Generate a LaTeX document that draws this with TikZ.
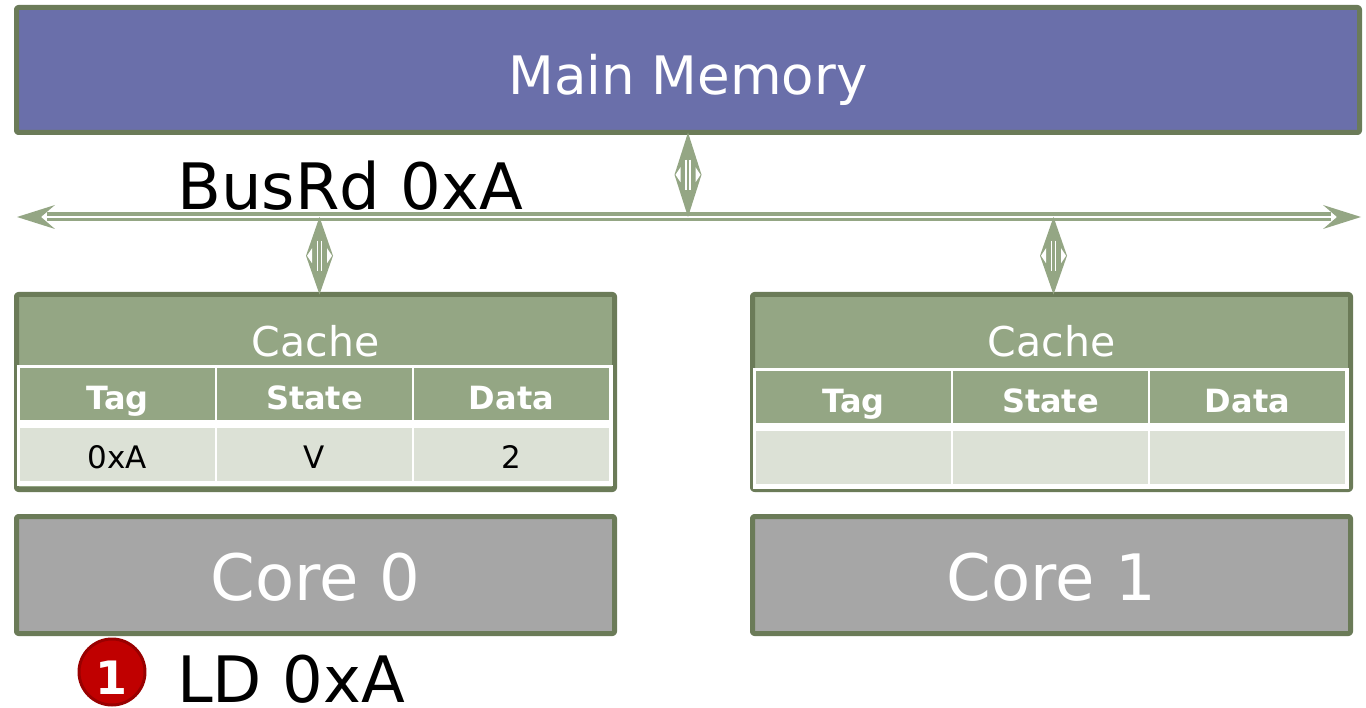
\documentclass[tikz,border=0pt]{standalone}
\usepackage{fontspec}
\setmainfont{DejaVu Sans}
\usetikzlibrary{positioning,calc}
\definecolor{memblue}{HTML}{6A6FAA}
\definecolor{edgegreen}{HTML}{6B7B58}
\definecolor{busgreen}{HTML}{94A684}
\definecolor{rowgrey}{HTML}{DCE1D6}
\definecolor{coregrey}{HTML}{A6A6A6}
\definecolor{stepred}{HTML}{C00000}
\definecolor{stepedge}{HTML}{990000}
\tikzset{
  box/.style={draw=edgegreen, line width=5pt, rounded corners=2pt, inner sep=0pt, outer sep=0pt, anchor=north west},
  grid/.style={fill=white, inner sep=0pt, outer sep=0pt, anchor=north west, minimum width=596pt, minimum height=121pt},
  head/.style={draw=white, line width=2pt, fill=busgreen, minimum width=197pt, minimum height=54pt, inner sep=0pt, outer sep=0pt,
    text=white, font=\fontsize{32}{34}\selectfont\bfseries, text height=31pt, text depth=0pt},
  entry/.style={draw=white, line width=2pt, fill=rowgrey, minimum width=197pt, minimum height=55pt, inner sep=0pt, outer sep=0pt,
    font=\fontsize{31}{34}\selectfont, text height=27pt, text depth=0pt},
  big/.style={inner sep=0pt, font=\fontsize{64}{70}\selectfont},
}
%Double link between bus and a box.
\newcommand{\linkpath}[2]{%
  \coordinate (mid) at ($(#1)!0.5!(#2)$);
  \fill[busgreen] (#1) -- ([xshift=13.5pt]mid) -- (#2) -- ([xshift=-13.5pt]mid) -- cycle;
  \draw[white, line width=1.6pt] ([xshift=-2pt,yshift=15pt]mid) -- ([xshift=-2pt,yshift=-15pt]mid);
  \draw[white, line width=1.6pt] ([xshift=2pt,yshift=15pt]mid) -- ([xshift=2pt,yshift=-15pt]mid);
  \fill[white] ([xshift=-12.5pt]mid) -- ([xshift=-7.5pt,yshift=7.5pt]mid) -- ([xshift=-7.5pt,yshift=-7.5pt]mid) -- cycle;
  \fill[white] ([xshift=12.5pt]mid) -- ([xshift=7.5pt,yshift=7.5pt]mid) -- ([xshift=7.5pt,yshift=-7.5pt]mid) -- cycle;
}
\begin{document}
\begin{tikzpicture}[x=1pt, y=-1pt, line join=round]
  \useasboundingbox (0,0) rectangle (1366,708);
  %Main memory.
  \node[box, fill=memblue, minimum width=1343pt, minimum height=125pt] (mem) at (16.5,7.5) {};
  \node[inner sep=0pt, text=white, anchor=base, font=\fontsize{53}{60}\selectfont] (memtext) at (mem.center |- 0,95) {Main Memory};
  %Bus.
  \coordinate (buswest) at (17,217);
  \coordinate (buseast) at (1361,217);
  \draw[busgreen, line width=9pt] ([xshift=30pt]buswest) -- ([xshift=-30pt]buseast);
  \draw[white, line width=2.2pt] ([xshift=26pt]buswest) -- ([xshift=-26pt]buseast);
  \fill[busgreen] (buswest) -- ++(38,-12) -- ++(-14,12) -- ++(14,12) -- cycle;
  \fill[busgreen] (buseast) -- ++(-38,-12) -- ++(14,12) -- ++(-14,12) -- cycle;
  \node[big, anchor=base west] (busmsg) at (177,210) {BusRd 0xA};
  %Caches.
  \node[box, fill=busgreen, minimum width=598pt, minimum height=195pt] (cache0) at (16.5,294.5) {};
  \node[box, fill=busgreen, minimum width=598pt, minimum height=195pt] (cache1) at (752.5,294.5) {};
  \foreach \c in {0,1}{
    \node[anchor=base, text=white, inner sep=0pt, font=\fontsize{41}{46}\selectfont] (title\c) at (cache\c.north |- 0,357) {Cache};
  }
  %Table of cache 0.
  \node[grid] (grid0) at (17,365) {};
  \node[head, anchor=north west] (tag0) at (19,367) {Tag};
  \node[head, right=0pt of tag0] (state0) {State};
  \node[head, right=0pt of state0] (data0) {Data};
  \node[entry, anchor=north west] (tagv0) at (19,427) {0xA};
  \node[entry, right=0pt of tagv0] (statev0) {V};
  \node[entry, right=0pt of statev0] (datav0) {2};
  %Table of cache 1.
  \node[grid] (grid1) at (753,368) {};
  \node[head, anchor=north west] (tag1) at (755,370) {Tag};
  \node[head, right=0pt of tag1] (state1) {State};
  \node[head, right=0pt of state1] (data1) {Data};
  \node[entry, anchor=north west] (tagv1) at (755,430) {};
  \node[entry, right=0pt of tagv1] (statev1) {};
  \node[entry, right=0pt of statev1] (datav1) {};
  %Cores.
  \node[box, fill=coregrey, minimum width=598pt, minimum height=117pt] (core0) at (16.5,516.5) {};
  \node[box, fill=coregrey, minimum width=598pt, minimum height=117pt] (core1) at (752.5,516.5) {};
  \foreach \c in {0,1}{
    \node[big, text=white, anchor=base] (coretext\c) at (core\c.center |- 0,600) {Core \c};
  }
  %Links to the bus.
  \linkpath{mem.south}{mem.south |- 0,217}
  \linkpath{[xshift=4pt]cache0.north}{[xshift=4pt]cache0.north |- 0,217}
  \linkpath{[xshift=2pt]cache1.north}{[xshift=2pt]cache1.north |- 0,217}
  %Step.
  \node[circle, draw=stepedge, line width=3pt, fill=stepred, minimum size=66pt, inner sep=0pt] (step1) at (112,672) {};
  \node[inner sep=0pt, text=white, anchor=base, font=\fontsize{46}{50}\selectfont\bfseries] (stepno) at (step1.center |- 0,694) {1};
  \node[big, anchor=base west] (ldmsg) at (177,702) {LD 0xA};
\end{tikzpicture}
\end{document}
